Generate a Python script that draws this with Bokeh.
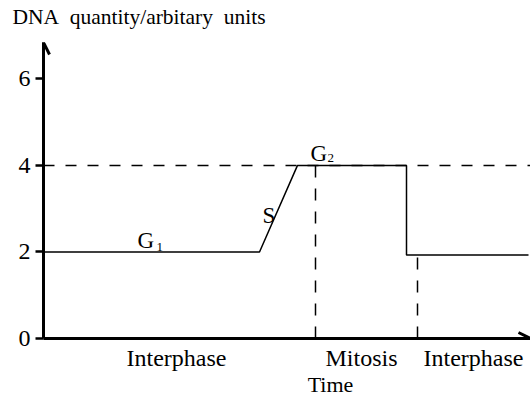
from bokeh.plotting import figure
from bokeh.models import Range1d, FixedTicker, Arrow, OpenHead, LinearAxis
from bokeh.core.properties import value
from bokeh.embed import file_html
from bokeh.resources import INLINE

# ---- data ----
time_points = [0, 21.6, 25.4, 36.3, 36.3, 48.5]
dna_quantity = [2.0, 2.0, 4.0, 4.0, 1.93, 1.93]
y_ticks = [0, 2, 4, 6]
y_title = "DNA\u00a0 quantity/arbitary\u00a0 units"
y_title_x = [9.55]
phase_names = ["Interphase", "Mitosis", "Interphase"]
phase_label_x = [13.3, 31.8, 43.0]
time_label_x = [28.7]
reference_level = 4
boundary_x = [27.2, 37.4]
boundary_top = [4.0, 1.93]
stage_text = ["G", "S", "G"]
stage_x = [9.4, 21.9, 26.7]
stage_y = [2.27, 2.85, 4.27]
stage_sub = ["1", "2"]
stage_sub_x = [11.3, 28.4]
stage_sub_y = [2.11, 4.16]
x_max = 48.7
y_max = 6.84

FONT = "'Liberation Serif', 'Times New Roman', serif"


def label_axis(ticks, labels, size, standoff):
    ax = LinearAxis(ticker=FixedTicker(ticks=ticks),
                    major_label_overrides=dict(zip(ticks, labels)))
    ax.axis_line_color = None
    ax.major_tick_line_color = None
    ax.minor_tick_line_color = None
    ax.major_tick_out = 0
    ax.major_tick_in = 0
    ax.minor_tick_out = 0
    ax.minor_tick_in = 0
    ax.major_label_text_font = FONT
    ax.major_label_text_font_size = size
    ax.major_label_text_color = "black"
    ax.major_label_standoff = standoff
    return ax


p = figure(width=530, height=399, x_range=Range1d(0, x_max), y_range=Range1d(0, y_max),
           output_backend="svg", toolbar_location=None,
           min_border_left=43, min_border_right=0, min_border_top=42, min_border_bottom=60)
p.outline_line_color = None
p.grid.visible = False
p.background_fill_color = "white"
p.border_fill_color = "white"

# y axis
ya = p.yaxis[0]
ya.ticker = FixedTicker(ticks=y_ticks)
ya.major_tick_out = 8
ya.major_tick_in = 0
ya.minor_tick_out = 0
ya.minor_tick_in = 0
ya.axis_line_width = 3
ya.major_tick_line_width = 2.5
ya.axis_line_color = "black"
ya.major_tick_line_color = "black"
ya.major_label_text_font = FONT
ya.major_label_text_font_size = "24px"
ya.major_label_text_color = "black"
ya.major_label_standoff = 5

# x axis with phase names
xa = p.xaxis[0]
xa.ticker = FixedTicker(ticks=phase_label_x)
xa.major_label_overrides = {x: n for x, n in zip(phase_label_x, phase_names)}
xa.major_tick_out = 0
xa.major_tick_in = 0
xa.minor_tick_out = 0
xa.minor_tick_in = 0
xa.axis_line_width = 3
xa.axis_line_color = "black"
xa.major_label_text_font = FONT
xa.major_label_text_font_size = "24px"
xa.major_label_text_color = "black"
xa.major_label_standoff = 6

# x axis title row and y axis title above the frame
p.add_layout(label_axis(time_label_x, ["Time"], "22px", -2), "below")
p.add_layout(label_axis(y_title_x, [y_title], "21.5px", 14), "above")

# reference dashed lines
p.line([0, x_max], [reference_level, reference_level], line_color="black",
       line_width=1.5, line_dash="11 11")
for bx, bt in zip(boundary_x, boundary_top):
    p.line([bx, bx], [0, bt], line_color="black", line_width=1.5, line_dash="12 11")

# DNA quantity curve
p.line(time_points, dna_quantity, line_color="black", line_width=1.5)

# stage labels
p.text(stage_x, stage_y, text=stage_text, text_font=value(FONT), text_font_size="23px",
       text_color="black", text_baseline="alphabetic", text_align="left")
p.text(stage_sub_x, stage_sub_y, text=stage_sub, text_font=value(FONT), text_font_size="13px",
       text_color="black", text_baseline="alphabetic", text_align="left")

# axis arrows
p.add_layout(Arrow(end=OpenHead(size=12, line_width=3, line_color="black"),
                   x_start=0, y_start=y_max - 0.3, x_end=0, y_end=y_max,
                   line_width=3, line_color="black"))
p.add_layout(Arrow(end=OpenHead(size=12, line_width=3, line_color="black"),
                   x_start=x_max - 3, y_start=0, x_end=x_max, y_end=0,
                   line_width=3, line_color="black"))

open("out.html", "w").write(file_html(p, INLINE))
